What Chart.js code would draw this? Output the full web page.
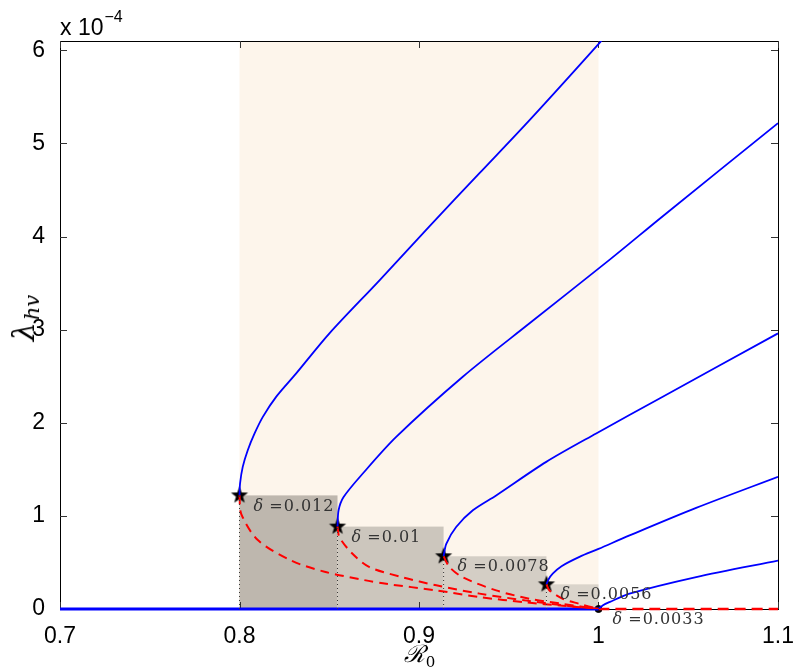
<!DOCTYPE html>
<html>
<head>
<meta charset="utf-8">
<title>Bifurcation diagram</title>
<script src="https://cdn.jsdelivr.net/npm/chart.js@4.4.1/dist/chart.umd.min.js"></script>
<style>
  html, body { margin: 0; padding: 0; background: #ffffff; }
  #wrap { position: relative; width: 795px; height: 670px; }
  #bifurcationChart { display: block; }
  #yTitle {
    position: absolute;
    left: 26px;
    top: 318px;
    transform: translate(-50%, -50%) rotate(-90deg);
    font-family: "DejaVu Serif", serif;
    font-style: italic;
    font-size: 30px;
    line-height: 1;
    white-space: nowrap;
    color: #000000;
  }
  #yTitle sub {
    font-size: 21px;
    vertical-align: -5px;
    margin-left: 2px;
  }
</style>
</head>
<body>
<div id="wrap">
  <canvas id="bifurcationChart" width="795" height="670"></canvas>
  <div id="yTitle">&lambda;<sub>hv</sub></div>
</div>
<script>
'use strict';

// ********************* DATA *********************************
// lambda values are in units of 1e-4 (see the "x 10^-4" note on the axis)

let xTickValues = [0.7, 0.8, 0.9, 1, 1.1];
let xTickLabels = ['0.7', '0.8', '0.9', '1', '1.1'];
let yTickValues = [0, 1, 2, 3, 4, 5, 6];
let yTickLabels = ['0', '1', '2', '3', '4', '5', '6'];

let deltaLabels = ['0.012', '0.01', '0.0078', '0.0056', '0.0033'];

// saddle-node points (one per delta) and the transcritical point at R0 = 1
let turningR0 = [0.8, 0.8546, 0.9137, 0.9710];
let turningLambda = [1.22, 0.885, 0.566, 0.265];
let criticalR0 = [1.0];
let criticalLambda = [0];

// stable (upper) endemic branches
let upper1R0 = [0.8, 0.8003, 0.8018, 0.8046, 0.8084, 0.813, 0.8204, 0.8316, 0.8501, 0.878, 0.9058, 0.9337, 0.9616, 1.0006, 1.003];
let upper1Lambda = [1.22, 1.347, 1.526, 1.705, 1.885, 2.063, 2.278, 2.53, 2.96, 3.53, 4.11, 4.68, 5.25, 6.08, 6.14];
let upper2R0 = [0.8546, 0.8552, 0.8579, 0.8687, 0.8873, 0.9244, 0.9616, 1.0061, 1.0358, 1.1];
let upper2Lambda = [0.885, 1.06, 1.20, 1.455, 1.848, 2.494, 3.068, 3.749, 4.218, 5.218];
let upper3R0 = [0.9137, 0.9152, 0.9207, 0.93, 0.943, 0.9709, 0.9987, 1.0358, 1.1];
let upper3Lambda = [0.566, 0.70, 0.88, 1.06, 1.22, 1.58, 1.885, 2.28, 2.96];
let upper4R0 = [0.971, 0.9722, 0.9745, 0.9794, 0.9894, 1.0, 1.0173, 1.0544, 1.1];
let upper4Lambda = [0.265, 0.32, 0.38, 0.46, 0.56, 0.645, 0.79, 1.086, 1.42];
let upper5R0 = [1.0, 1.0025, 1.0061, 1.0173, 1.0544, 1.1];
let upper5Lambda = [0, 0.04, 0.074, 0.165, 0.343, 0.52];

// unstable (lower) branches, all ending at R0 = 1
let lower1R0 = [0.8, 0.801, 0.8102, 0.8288, 0.8474, 0.8696, 0.8817, 0.9096, 0.9337, 0.96, 0.98, 1.0];
let lower1Lambda = [1.22, 1.02, 0.74, 0.52, 0.40, 0.31, 0.27, 0.20, 0.128, 0.07, 0.035, 0];
let lower2R0 = [0.8546, 0.8557, 0.8631, 0.8724, 0.891, 0.9096, 0.9337, 0.96, 0.98, 1.0];
let lower2Lambda = [0.885, 0.77, 0.59, 0.45, 0.34, 0.254, 0.165, 0.09, 0.04, 0];
let lower3R0 = [0.9137, 0.917, 0.9244, 0.943, 0.9616, 0.98, 1.0];
let lower3Lambda = [0.566, 0.45, 0.34, 0.20, 0.11, 0.055, 0];
let lower4R0 = [0.971, 0.9727, 0.9801, 0.989, 1.0];
let lower4Lambda = [0.265, 0.2, 0.11, 0.057, 0];

// disease-free equilibrium: stable below R0 = 1, unstable above
let dfeStableR0 = [0.7, 1.0];
let dfeUnstableR0 = [1.0, 1.1];

// bistable window of R0
let bistableR0 = [0.8, 1.0];

let boxColors = ['#beb7ae', '#ccc6bd', '#d4cec5', '#dad4cb'];


// ********************* HELPERS ******************************

function toPoints(xs, ys) {
  let pts = [];
  for (let i = 0; i < xs.length; i++) {
    pts.push({ x: xs[i], y: ys[i] });
  }
  return pts;
}

function makeStar(size, outer, inner) {
  let c = document.createElement('canvas');
  c.width = size;
  c.height = size;
  let g = c.getContext('2d');
  g.beginPath();
  for (let i = 0; i < 10; i++) {
    let r = i % 2 === 0 ? outer : inner;
    let a = -Math.PI / 2 + i * Math.PI / 5;
    let px = size / 2 + r * Math.cos(a);
    let py = size / 2 + r * Math.sin(a);
    if (i === 0) g.moveTo(px, py); else g.lineTo(px, py);
  }
  g.closePath();
  g.fillStyle = '#000000';
  g.fill();
  return c;
}

let starImg = makeStar(20, 9, 3.7);

function branch(xs, ys, color, width, dash) {
  return {
    data: toPoints(xs, ys),
    showLine: true,
    borderColor: color,
    borderWidth: width,
    borderDash: dash || [],
    pointRadius: 0,
    tension: 0.3,
    clip: 0
  };
}

// ********************* DATASETS *****************************

let datasets = [];

// dotted drop lines under each turning point
for (let i = 0; i < turningR0.length; i++) {
  datasets.push({
    data: toPoints([turningR0[i], turningR0[i]], [0, turningLambda[i]]),
    showLine: true,
    borderColor: '#3a3a3a',
    borderWidth: 1,
    borderDash: [1, 3],
    pointRadius: 0,
    clip: 0
  });
}

datasets.push(branch(lower1R0, lower1Lambda, '#ff0000', 2, [9, 6]));
datasets.push(branch(lower2R0, lower2Lambda, '#ff0000', 2, [9, 6]));
datasets.push(branch(lower3R0, lower3Lambda, '#ff0000', 2, [9, 6]));
datasets.push(branch(lower4R0, lower4Lambda, '#ff0000', 2, [9, 6]));

datasets.push(branch(upper1R0, upper1Lambda, '#0000ff', 1.8));
datasets.push(branch(upper2R0, upper2Lambda, '#0000ff', 1.8));
datasets.push(branch(upper3R0, upper3Lambda, '#0000ff', 1.8));
datasets.push(branch(upper4R0, upper4Lambda, '#0000ff', 1.8));
datasets.push(branch(upper5R0, upper5Lambda, '#0000ff', 1.8));

let dfeBlue = branch(dfeStableR0, [0, 0], '#0000ff', 3);
dfeBlue.clip = { left: 0, top: 0, right: 0, bottom: 4 };
datasets.push(dfeBlue);
let dfeRed = branch(dfeUnstableR0, [0, 0], '#ff0000', 2.5, [11, 6]);
dfeRed.clip = { left: 0, top: 0, right: 0, bottom: 4 };
datasets.push(dfeRed);

datasets.push({
  data: toPoints(turningR0, turningLambda),
  showLine: false,
  pointStyle: starImg,
  pointRadius: 9,
  clip: false
});
datasets.push({
  data: toPoints(criticalR0, criticalLambda),
  showLine: false,
  pointStyle: 'circle',
  pointRadius: 3.5,
  backgroundColor: '#000000',
  borderColor: '#000000',
  clip: false
});


// ********************* DRAWING PLUGIN ***********************

let axisFont = '23px "Liberation Sans", Arial, sans-serif';
let labelFont = '16px "DejaVu Serif", serif';
let deltaFont = 'italic 16px "DejaVu Serif", serif';

let panelPlugin = {
  id: 'panel',
  beforeDatasetsDraw(chart) {
    let ctx = chart.ctx;
    let area = chart.chartArea;
    let xs = chart.scales.x;
    let ys = chart.scales.y;

    ctx.save();
    // bistable window
    let bx0 = xs.getPixelForValue(bistableR0[0]);
    let bx1 = xs.getPixelForValue(bistableR0[1]);
    ctx.fillStyle = '#fdf5eb';
    ctx.fillRect(bx0, area.top, bx1 - bx0, area.bottom - area.top);

    // grey boxes under each turning point
    for (let i = 0; i < turningR0.length; i++) {
      let nextR0 = i + 1 < turningR0.length ? turningR0[i + 1] : criticalR0[0];
      let x0 = xs.getPixelForValue(turningR0[i]);
      let x1 = xs.getPixelForValue(nextR0);
      let y0 = ys.getPixelForValue(turningLambda[i]);
      ctx.fillStyle = boxColors[i];
      ctx.fillRect(x0, y0, x1 - x0, ys.getPixelForValue(0) - y0);
    }

    // frame
    ctx.strokeStyle = '#000000';
    ctx.lineWidth = 1;
    ctx.strokeRect(Math.round(area.left) + 0.5, Math.round(area.top) + 0.5,
      Math.round(area.right - area.left), Math.round(area.bottom - area.top));

    // inward ticks on all four sides
    ctx.strokeStyle = '#333333';
    ctx.beginPath();
    for (let v of xTickValues) {
      let px = Math.round(xs.getPixelForValue(v)) + 0.5;
      ctx.moveTo(px, area.bottom);
      ctx.lineTo(px, area.bottom - 7);
      ctx.moveTo(px, area.top);
      ctx.lineTo(px, area.top + 7);
    }
    for (let v of yTickValues) {
      let py = Math.round(ys.getPixelForValue(v)) + 0.5;
      ctx.moveTo(area.left, py);
      ctx.lineTo(area.left + 7, py);
      ctx.moveTo(area.right, py);
      ctx.lineTo(area.right - 7, py);
    }
    ctx.stroke();
    ctx.restore();
  },
  afterDatasetsDraw(chart) {
    let ctx = chart.ctx;
    let area = chart.chartArea;
    let xs = chart.scales.x;
    let ys = chart.scales.y;
    let labelR0 = turningR0.concat(criticalR0);
    let labelLambda = turningLambda.concat(criticalLambda);

    ctx.save();
    // delta labels
    ctx.fillStyle = '#333333';
    ctx.textBaseline = 'middle';
    ctx.textAlign = 'left';
    for (let i = 0; i < deltaLabels.length; i++) {
      let px = xs.getPixelForValue(labelR0[i]) + 14;
      let py = ys.getPixelForValue(labelLambda[i]) + 11;
      ctx.font = deltaFont;
      ctx.fillText('\u03B4', px, py);
      let dw = ctx.measureText('\u03B4').width;
      ctx.font = labelFont;
      if ('letterSpacing' in ctx) ctx.letterSpacing = '1px';
      ctx.fillText(' =' + deltaLabels[i], px + dw, py);
      if ('letterSpacing' in ctx) ctx.letterSpacing = '0px';
    }

    // exponent note above the y axis
    ctx.fillStyle = '#000000';
    ctx.textBaseline = 'alphabetic';
    ctx.font = axisFont;
    ctx.fillText('x 10', area.left, 35);
    let w = ctx.measureText('x 10').width;
    ctx.font = '16px "Liberation Sans", Arial, sans-serif';
    ctx.fillText('\u22124', area.left + w + 1, 22);

    // x axis title
    let cx = (area.left + area.right) / 2;
    ctx.font = 'italic 24px "DejaVu Serif", serif';
    let rw = ctx.measureText('\u211B').width;
    ctx.font = '15px "DejaVu Serif", serif';
    let zw = ctx.measureText('0').width;
    let startX = cx - (rw + zw) / 2;
    ctx.font = 'italic 24px "DejaVu Serif", serif';
    ctx.fillText('\u211B', startX, 662);
    ctx.font = '15px "DejaVu Serif", serif';
    ctx.fillText('0', startX + rw + 1, 667);
    ctx.restore();
  }
};


// ********************* CHART ********************************

let ctx = document.getElementById('bifurcationChart');

new Chart(ctx, {
  type: 'scatter',
  data: { datasets: datasets },
  options: {
    responsive: false,
    animation: false,
    layout: { padding: { top: 41, right: 17, left: 0, bottom: 0 } },
    plugins: {
      legend: { display: false },
      tooltip: { enabled: false }
    },
    scales: {
      x: {
        type: 'linear',
        min: 0.7,
        max: 1.1,
        grid: { display: false },
        border: { display: false },
        afterBuildTicks: (scale) => {
          scale.ticks = xTickValues.map(v => ({ value: v }));
        },
        afterFit: (scale) => {
          scale.height = 61;
          scale.paddingLeft = 0;
          scale.paddingRight = 0;
        },
        ticks: {
          padding: 6,
          color: '#000000',
          font: { family: '"Liberation Sans", Arial, sans-serif', size: 23 },
          maxRotation: 0,
          autoSkip: false,
          callback: (value) => {
            let idx = xTickValues.findIndex(t => Math.abs(t - value) < 1e-9);
            return idx >= 0 ? xTickLabels[idx] : '';
          }
        }
      },
      y: {
        type: 'linear',
        min: 0,
        max: 6.1,
        grid: { display: false },
        border: { display: false },
        afterBuildTicks: (scale) => {
          scale.ticks = yTickValues.map(v => ({ value: v }));
        },
        afterFit: (scale) => {
          scale.width = 60;
          scale.paddingTop = 0;
          scale.paddingBottom = 0;
        },
        ticks: {
          padding: 7,
          color: '#000000',
          font: { family: '"Liberation Sans", Arial, sans-serif', size: 23 },
          autoSkip: false,
          callback: (value) => {
            let idx = yTickValues.findIndex(t => Math.abs(t - value) < 1e-9);
            return idx >= 0 ? yTickLabels[idx] : '';
          }
        }
      }
    }
  },
  plugins: [panelPlugin]
});
</script>
</body>
</html>
